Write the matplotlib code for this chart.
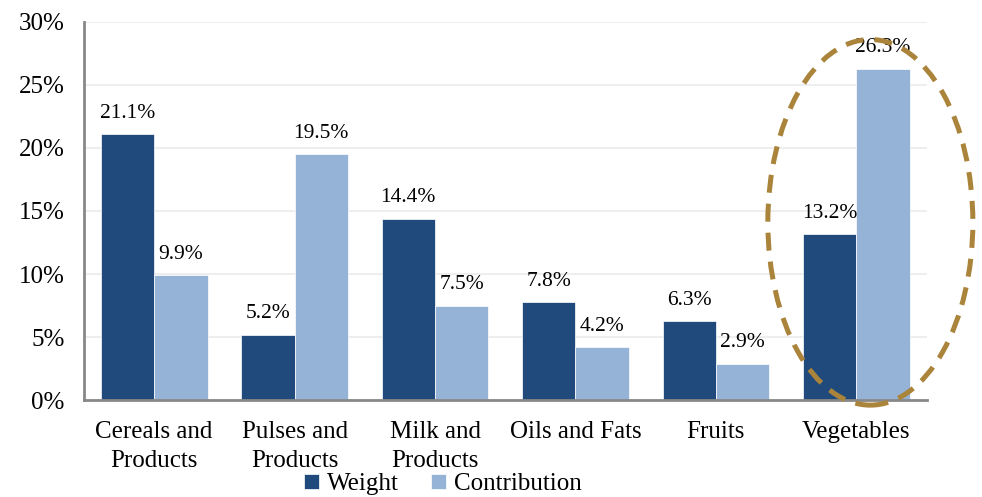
import matplotlib.pyplot as plt
import numpy as np
from matplotlib.patches import Ellipse

categories = ["Cereals and\nProducts", "Pulses and\nProducts", "Milk and\nProducts",
              "Oils and Fats", "Fruits", "Vegetables"]
weight = [21.1, 5.2, 14.4, 7.8, 6.3, 13.2]
contribution = [9.9, 19.5, 7.5, 4.2, 2.9, 26.3]

plt.rcParams["font.family"] = ["Liberation Serif", "DejaVu Serif"]

fig = plt.figure(figsize=(9.82, 4.97), dpi=100)
ax = fig.add_axes([0.0855, 0.195, 0.858, 0.761])

x = np.arange(len(categories))
w = 0.38
b1 = ax.bar(x - w / 2, weight, w, color="#214A7C", edgecolor="white", linewidth=0.5, label="Weight", zorder=2)
b2 = ax.bar(x + w / 2, contribution, w, color="#95B3D7", edgecolor="white", linewidth=0.5, label="Contribution", zorder=2)

for bars, vals in ((b1, weight), (b2, contribution)):
    for rect, v in zip(bars, vals):
        ax.annotate(f"{v:.1f}%", xy=(rect.get_x() + rect.get_width() / 2, v),
                    xytext=(0, 8), textcoords="offset points",
                    ha="center", va="bottom", fontsize=15.5)

ax.set_xlim(-0.5, len(categories) - 0.5)
ax.set_ylim(0, 30)
ax.set_yticks(range(0, 31, 5))
ax.set_yticklabels([f"{t}%" for t in range(0, 31, 5)], fontsize=18)
ax.set_xticks(x)
ax.set_xticklabels(categories, fontsize=18, linespacing=1.42)
ax.tick_params(length=0)
ax.tick_params(axis="x", pad=15)
ax.tick_params(axis="y", pad=14)

ax.grid(axis="y", color="#EEEEEE", linewidth=1.5, zorder=0)
for s in ("top", "right"):
    ax.spines[s].set_visible(False)
for s in ("left", "bottom"):
    ax.spines[s].set_color("#888888")
    ax.spines[s].set_linewidth(2)

# highlight circle around vegetables
ell = Ellipse((5.1, 14.1), 1.46, 29.0, fill=False, edgecolor="#AA843A",
              linewidth=3.6, linestyle=(0, (3.6, 2.2)), clip_on=False, zorder=3)
ax.add_patch(ell)

fig.legend(loc="lower center", bbox_to_anchor=(0.451, -0.042), ncol=2, frameon=False,
           fontsize=18, handlelength=0.6, handleheight=0.6, handletextpad=0.3, columnspacing=1.3)

fig.savefig("out.png", dpi=100)
